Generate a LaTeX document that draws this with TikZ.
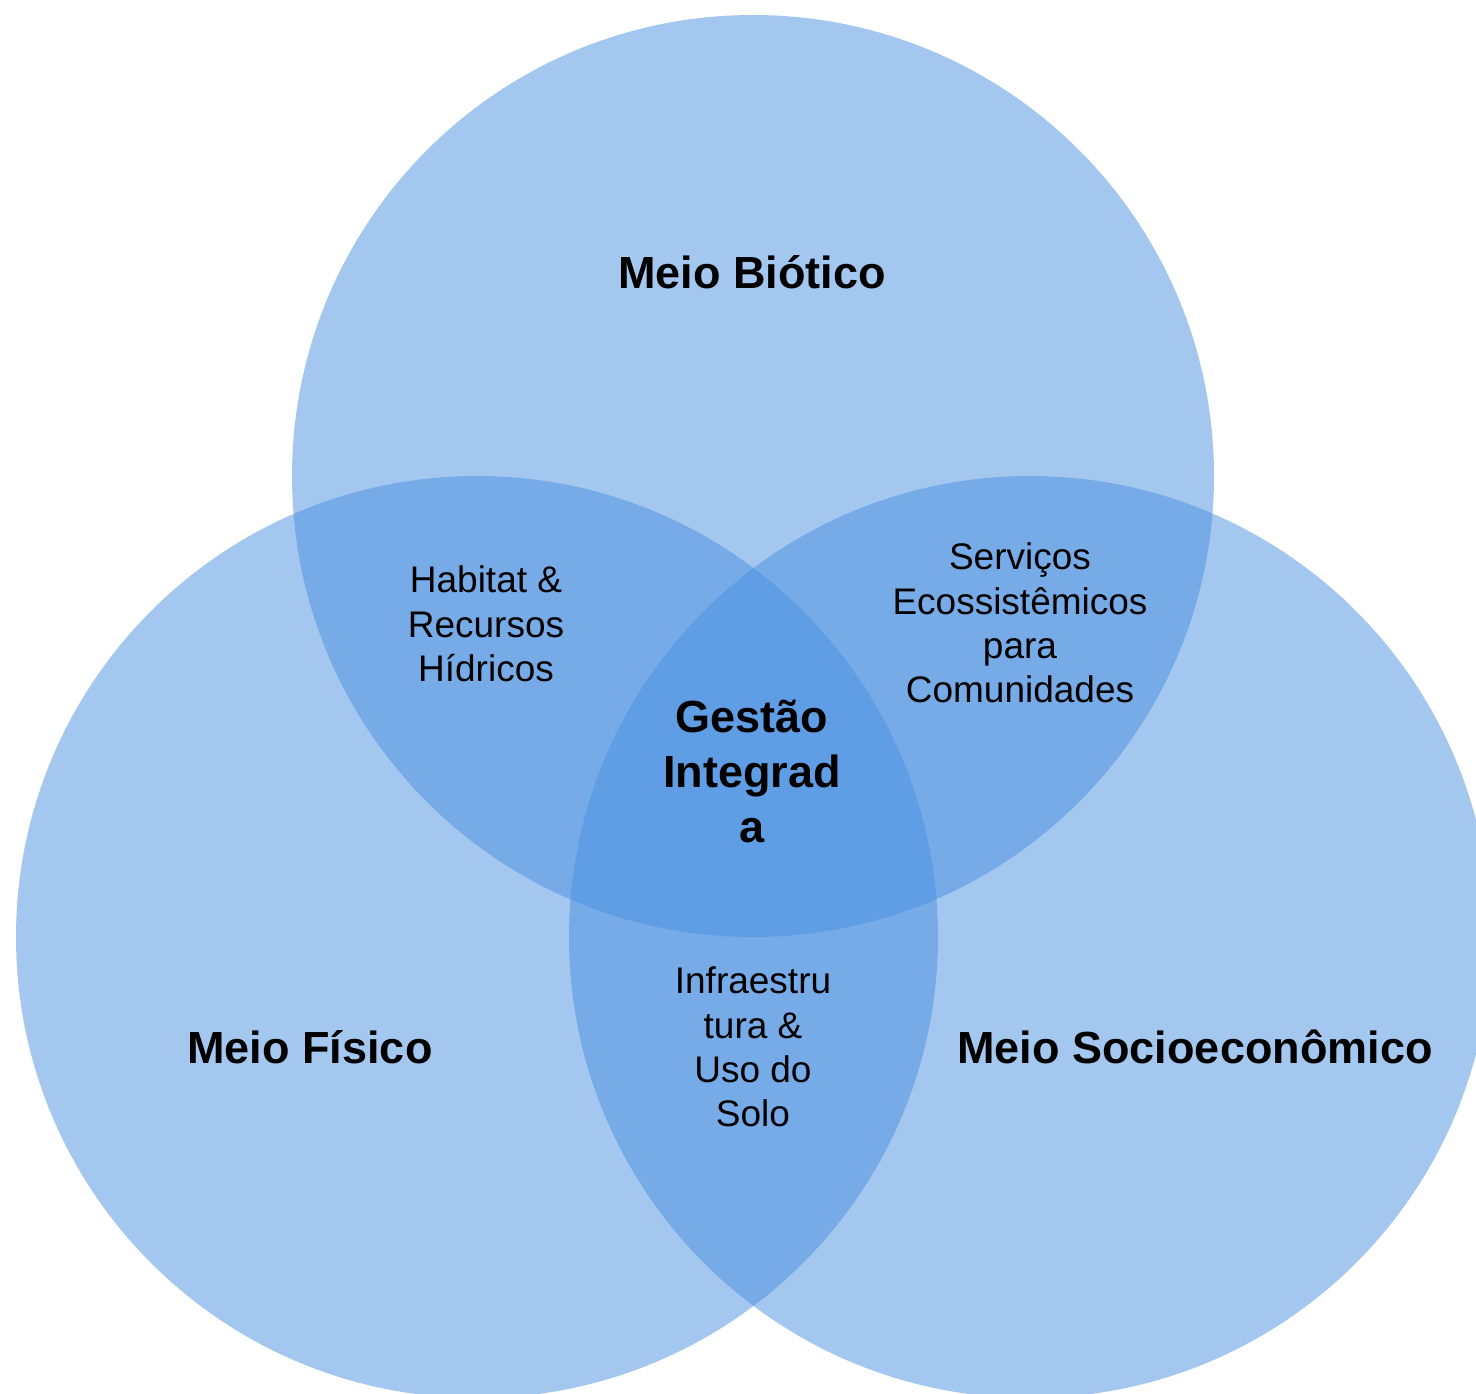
\documentclass[tikz,border=0pt]{standalone}
\usepackage{fontspec}
\setmainfont{Liberation Sans}
\definecolor{vennblue}{RGB}{74,144,226}
\begin{document}
\begin{tikzpicture}[x=1pt,y=-1pt,
  venn/.style={fill=vennblue,fill opacity=0.5,draw=none},
  bigtitle/.style={font=\fontsize{45}{55}\selectfont\bfseries,align=center,inner sep=0pt,text=black},
  smalltext/.style={font=\fontsize{37}{44.4}\selectfont,align=center,inner sep=0pt,text=black}]
\useasboundingbox (0,0) rectangle (1476,1394);
\clip (0,0) rectangle (1476,1394);
\fill[white] (0,0) rectangle (1476,1394);
\fill[venn] (753,476) circle[radius=461];
\fill[venn] (477,937) circle[radius=461];
\fill[venn] (1030,937) circle[radius=461];
\node[bigtitle] (bio) at (752,272) {Meio Biótico};
\node[bigtitle] (fis) at (310,1047) {Meio Físico};
\node[bigtitle] (soc) at (1195,1047) {Meio Socioeconômico};
\node[bigtitle] (ges) at (752,771) {Gestão\\Integrad\\a};
\node[smalltext] (hab) at (486,624) {Habitat \&\\Recursos\\Hídricos};
\node[smalltext] (ser) at (1020,623) {Serviços\\Ecossistêmicos\\para\\Comunidades};
\node[smalltext] (inf) at (753,1047) {Infraestru\\tura \&\\Uso do\\Solo};
\end{tikzpicture}
\end{document}
